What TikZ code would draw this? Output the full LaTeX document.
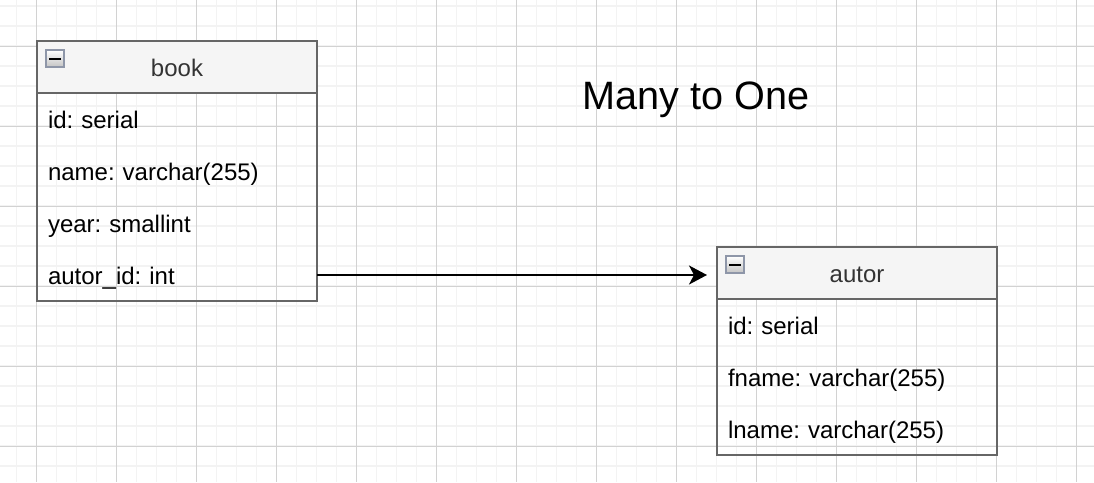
\documentclass[tikz,border=0pt]{standalone}
\usepackage{fontspec}
\setmainfont{Liberation Sans}
\usetikzlibrary{arrows.meta}
\frenchspacing
\definecolor{gridminor}{HTML}{F3F3F3}
\definecolor{gridmajor}{HTML}{D2D2D2}
\definecolor{boxline}{HTML}{666666}
\definecolor{headfill}{HTML}{F5F5F5}
\definecolor{headtext}{HTML}{333333}
\definecolor{iconline}{HTML}{8E96A8}
\definecolor{iconshade}{HTML}{C4C4C4}
\begin{document}
\frenchspacing
\begin{tikzpicture}[x=1pt,y=-1pt,
  headbox/.style={draw=boxline, line width=2pt, fill=headfill, text=headtext,
    minimum width=280pt, minimum height=52pt, inner sep=0pt, outer sep=0pt,
    text height=22pt, text depth=3pt, align=center, anchor=north west,
    font=\fontsize{24}{28}\selectfont},
  rowtext/.style={text width=258pt, inner xsep=11pt, inner ysep=0pt, outer sep=0pt,
    minimum height=52pt, align=left, text height=22pt, text depth=3pt,
    anchor=north west, font=\fontsize{24}{28}\selectfont\frenchspacing},
  bodybox/.style={draw=boxline, line width=2pt},
  iconbox/.style={draw=iconline, line width=1.5pt, top color=white, bottom color=iconshade,
    minimum width=18pt, minimum height=17pt, inner sep=0pt, outer sep=0pt},
  minusbar/.style={line width=2pt, black},
  relarrow/.style={line width=2pt, black, -{Stealth[length=18pt,width=19pt,inset=5pt]}, shorten >=10pt},
  titletext/.style={font=\fontsize{39.6}{46}\selectfont, anchor=base}
]
\useasboundingbox (0,0) rectangle (1094,482);
\fill[white] (0,0) rectangle (1094,482);
% grid
\begin{scope}
\clip (0,0) rectangle (1094,482);
\foreach \gx in {16.5,36.5,...,1100} \draw[gridminor, line width=1.3pt] (\gx,0) -- (\gx,482);
\foreach \gy in {6,26,...,490} \draw[gridminor, line width=1.3pt] (0,\gy) -- (1094,\gy);
\foreach \gx in {36.5,116.5,...,1100} \draw[gridmajor, line width=0.8pt] (\gx,0) -- (\gx,482);
\foreach \gy in {46,126,...,490} \draw[gridmajor, line width=0.8pt] (0,\gy) -- (1094,\gy);
\end{scope}

% book table
\node[headbox] (bookhead) at (37,41) {book};
\node[rowtext] (bookr1) at (bookhead.south west) {id: serial};
\node[rowtext] (bookr2) at (bookr1.south west) {name: varchar(255)};
\node[rowtext] (bookr3) at (bookr2.south west) {year: smallint};
\node[rowtext] (bookr4) at (bookr3.south west) {autor\_id: int};
\draw[bodybox] (bookhead.south west) rectangle (bookr4.south east);
\node[iconbox] (bookicon) at (55,58.5) {};
\draw[minusbar] ([xshift=3pt]bookicon.west) -- ([xshift=-3pt]bookicon.east);

% autor table
\node[headbox] (autorhead) at (717,247) {autor};
\node[rowtext] (autorr1) at (autorhead.south west) {id: serial};
\node[rowtext] (autorr2) at (autorr1.south west) {fname: varchar(255)};
\node[rowtext] (autorr3) at (autorr2.south west) {lname: varchar(255)};
\draw[bodybox] (autorhead.south west) rectangle (autorr3.south east);
\node[iconbox] (autoricon) at (735,264.5) {};
\draw[minusbar] ([xshift=3pt]autoricon.west) -- ([xshift=-3pt]autoricon.east);

% relation
\draw[relarrow] (bookr4.east) -- (bookr4.east -| autorhead.west);

% title
\node[titletext] (title) at (696,109.5) {Many to One};
\end{tikzpicture}
\end{document}
